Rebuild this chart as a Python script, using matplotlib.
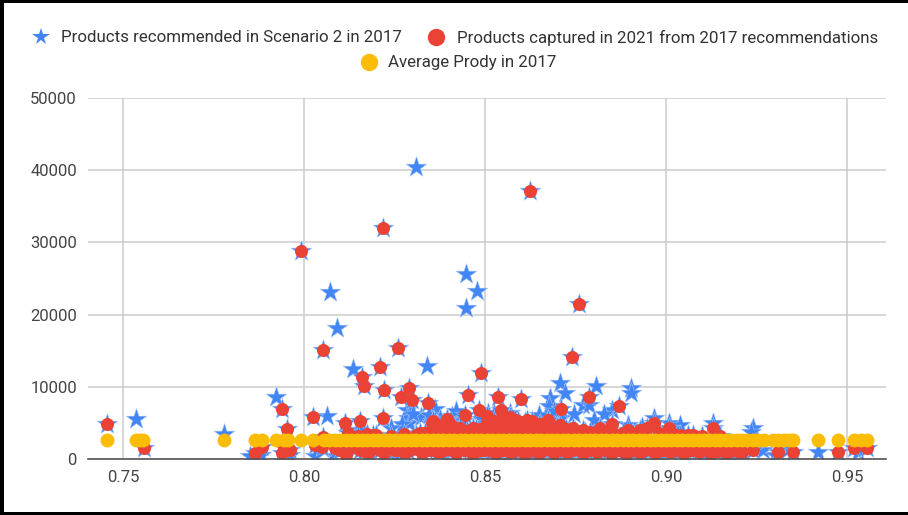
#!/usr/bin/env python

import matplotlib
matplotlib.use('Agg')
import matplotlib.pyplot as plt
from matplotlib.lines import Line2D
from matplotlib.patches import Rectangle

plt.rcParams['font.family'] = ['Roboto', 'DejaVu Sans']

# values
# stars with no red dot on top
only_rec_x = [0.8309, 0.8447, 0.8478, 0.8447, 0.8072, 0.8091, 0.8340, 0.8135, 0.7923, 0.7536,
              0.7779, 0.8064, 0.8707, 0.8807, 0.8903, 0.8903, 0.8722, 0.8680, 0.8677, 0.8771,
              0.8787, 0.8285, 0.8287, 0.8290, 0.8322, 0.8362, 0.8426, 0.8508, 0.8850, 0.8895,
              0.8967, 0.9008, 0.9130, 0.9240, 0.9236, 0.9420, 0.9267, 0.9212, 0.9335, 0.9530,
              0.9300, 0.9185, 0.9100, 0.9050, 0.8990, 0.8930, 0.8640, 0.8560, 0.8470, 0.8390,
              0.8330, 0.8250, 0.8180, 0.8120, 0.8080, 0.8030, 0.7880, 0.7850, 0.7960, 0.8695,
              0.8300, 0.8345, 0.8375, 0.8410, 0.8440, 0.8490, 0.8525, 0.8650, 0.8710, 0.8745,
              0.8800, 0.8830, 0.8690, 0.8270, 0.8240, 0.8150, 0.8420, 0.8570, 0.8935, 0.9040]
only_rec_y = [40400, 25600, 23300, 20900, 23100, 18200, 12900, 12500, 8600, 5500,
              3400, 6000, 10500, 10100, 9800, 9100, 9100, 8400, 7400, 7500,
              7500, 6800, 5700, 5000, 5800, 6900, 5400, 6400, 6800, 4700,
              5700, 5000, 5000, 4300, 3800, 970, 1250, 800, 1250, 970,
              500, 400, 450, 350, 500, 400, 400, 350, 450, 400,
              500, 450, 400, 500, 450, 400, 500, 450, 500, 5600,
              6200, 6100, 5500, 6000, 5200, 5600, 6200, 6100, 5700, 6300,
              5400, 6200, 6600, 4800, 4300, 4000, 6600, 6400, 4400, 4700]

# dots above the yellow band
cap_top_x = [0.7456, 0.7558, 0.7992, 0.8218, 0.8624, 0.8760, 0.8052, 0.8210, 0.8260, 0.8740,
             0.8489, 0.8160, 0.8166, 0.8221, 0.8290, 0.8268, 0.8298, 0.8343, 0.7939, 0.7953,
             0.8025, 0.8113, 0.8155, 0.8218, 0.8052, 0.8191, 0.8122, 0.8320, 0.8453, 0.8536,
             0.8599, 0.8710, 0.8787, 0.8870, 0.8445, 0.8483, 0.8506, 0.8544, 0.8674, 0.8354,
             0.8395, 0.8370, 0.8467, 0.8494, 0.8555, 0.8616, 0.8597, 0.8633, 0.8707, 0.8743,
             0.8412, 0.8528, 0.8575, 0.8550, 0.8771, 0.8851, 0.8818, 0.8967, 0.9008, 0.9130,
             0.8895, 0.8947, 0.8928, 0.9039, 0.9075, 0.8389, 0.8431, 0.8583, 0.8514, 0.8569,
             0.8652, 0.8679, 0.8721, 0.8790, 0.8845, 0.8348, 0.8376, 0.8440, 0.8600, 0.8690]
cap_top_y = [4850, 1520, 28800, 32000, 37100, 21470, 15100, 12740, 15370, 14130,
             11910, 11360, 10110, 9560, 9830, 8590, 8170, 7760, 6930, 4150,
             5820, 4990, 5260, 5680, 3050, 3320, 3600, 3600, 8860, 8590,
             8310, 6930, 8590, 7340, 6090, 6790, 5960, 6790, 5400, 4990,
             5540, 4430, 4290, 4290, 5400, 5400, 4710, 4990, 4710, 4290,
             3740, 4430, 4430, 4020, 4020, 4850, 4290, 4990, 4290, 4290,
             4020, 4290, 4020, 3320, 3320, 4710, 4290, 5400, 4850, 5820,
             4850, 4290, 4020, 3740, 3740, 3740, 4020, 3600, 4200, 3900]

# dots that stick out just above the band, they make the red mound
cap_mid_x = [0.8150, 0.8175, 0.8200, 0.8240, 0.8275, 0.8310, 0.8335, 0.8360, 0.8385, 0.8405,
             0.8425, 0.8450, 0.8475, 0.8500, 0.8520, 0.8540, 0.8560, 0.8580, 0.8600, 0.8620,
             0.8640, 0.8660, 0.8680, 0.8700, 0.8725, 0.8750, 0.8775, 0.8800, 0.8825, 0.8860,
             0.8880, 0.8910, 0.8940, 0.8980, 0.9020, 0.9060, 0.9100, 0.9150,
             0.8365, 0.8400, 0.8460, 0.8480, 0.8505, 0.8525, 0.8545, 0.8565, 0.8590, 0.8610,
             0.8630, 0.8650, 0.8670, 0.8695, 0.8715, 0.8735, 0.8355, 0.8415, 0.8530, 0.8620]
cap_mid_y = [3200, 3500, 3300, 3200, 3400, 3300, 3600, 3900, 3800, 3900,
             3800, 3900, 4100, 4200, 4500, 4800, 4700, 4500, 4300, 4600,
             4400, 4200, 4500, 4400, 4200, 3900, 3700, 3500, 3600, 3500,
             3600, 3500, 3700, 3600, 3400, 3300, 3200, 3200,
             4800, 5000, 3700, 3600, 5000, 5200, 5400, 5500, 5300, 5100,
             5300, 4700, 4800, 3800, 3800, 3700, 5200, 4400, 3800, 3700]

# dots below the yellow band
cap_low_x = [0.7865, 0.7884, 0.7939, 0.7945, 0.7960, 0.8085, 0.8115, 0.8135, 0.8180, 0.8221,
             0.8250, 0.8275, 0.8300, 0.8325, 0.8350, 0.8370, 0.8395, 0.8420, 0.8445, 0.8465,
             0.8490, 0.8510, 0.8530, 0.8550, 0.8570, 0.8590, 0.8610, 0.8630, 0.8650, 0.8670,
             0.8690, 0.8710, 0.8730, 0.8750, 0.8770, 0.8790, 0.8810, 0.8830, 0.8850, 0.8870,
             0.8890, 0.8910, 0.8930, 0.8950, 0.8970, 0.8990, 0.9010, 0.9030, 0.9050, 0.9070,
             0.9090, 0.9110, 0.9125, 0.9140, 0.9155, 0.9170, 0.9185, 0.9240, 0.9309, 0.9350,
             0.9475, 0.9519, 0.9555, 0.8050, 0.8030, 0.8100, 0.8155, 0.8200, 0.8235, 0.8340,
             0.8165, 0.8210, 0.8262, 0.8288, 0.8312, 0.8338, 0.8360, 0.8382, 0.8408, 0.8432,
             0.8455, 0.8478, 0.8500, 0.8520, 0.8540, 0.8560, 0.8580, 0.8600, 0.8620, 0.8640,
             0.8660, 0.8680, 0.8700, 0.8720, 0.8740, 0.8760, 0.8780, 0.8800, 0.8820, 0.8840,
             0.8860, 0.8880, 0.8900, 0.8920, 0.8940, 0.8960, 0.8980, 0.9000, 0.9020, 0.9040,
             0.9060, 0.9080, 0.9100, 0.9118, 0.9133, 0.9148, 0.9163, 0.9178, 0.9195, 0.9210]
cap_low_y = [800, 1600, 800, 1500, 1200, 1500, 600, 1700, 1000, 900,
             1300, 1000, 1500, 900, 1300, 1000, 1400, 900, 1300, 800,
             1200, 1400, 800, 1300, 1000, 1400, 700, 1300, 900, 1400,
             800, 1300, 1000, 1400, 800, 1200, 1000, 1400, 900, 1300,
             700, 1200, 1000, 1400, 800, 1300, 1000, 1400, 800, 1200,
             1000, 1300, 700, 1100, 1300, 800, 1200, 1250, 970, 970,
             970, 1520, 1520, 1700, 1900, 1300, 1200, 1500, 1600, 1700,
             1100, 1300, 1200, 1100, 1400, 1200, 1500, 1100, 1300, 1200,
             1400, 1100, 1300, 1100, 1400, 1200, 1100, 1300, 1500, 1100,
             1300, 1200, 1400, 1100, 1200, 1300, 1100, 1400, 1200, 1100,
             1300, 1400, 1200, 1100, 1300, 1200, 1100, 1300, 1200, 1100,
             1300, 1200, 1400, 1100, 1300, 1200, 1000, 1300, 1100, 1000]

prody_x = [0.7456, 0.7535, 0.7548, 0.7555, 0.7779, 0.7865, 0.7884, 0.7923, 0.7945, 0.7955,
           0.7992, 0.8025, 0.8055, 0.8070, 0.8085, 0.8100, 0.8115, 0.8130, 0.8145, 0.8160,
           0.8175, 0.8190, 0.8205, 0.8220, 0.8235, 0.8250, 0.8265, 0.8280, 0.8295, 0.8310,
           0.8325, 0.8340, 0.8355, 0.8370, 0.8385, 0.8400, 0.8415, 0.8430, 0.8445, 0.8460,
           0.8475, 0.8490, 0.8505, 0.8520, 0.8535, 0.8550, 0.8565, 0.8580, 0.8595, 0.8610,
           0.8625, 0.8640, 0.8655, 0.8670, 0.8685, 0.8700, 0.8715, 0.8730, 0.8745, 0.8760,
           0.8775, 0.8790, 0.8805, 0.8820, 0.8835, 0.8850, 0.8865, 0.8880, 0.8895, 0.8910,
           0.8925, 0.8940, 0.8955, 0.8970, 0.8985, 0.9000, 0.9015, 0.9030, 0.9045, 0.9060,
           0.9075, 0.9090, 0.9105, 0.9120, 0.9135, 0.9150, 0.9165, 0.9180, 0.9195, 0.9210,
           0.9225, 0.9240, 0.9255, 0.9270, 0.9295, 0.9310, 0.9325, 0.9340, 0.9350, 0.9420,
           0.9475, 0.9519, 0.9540, 0.9555]
prody_y = [2700, 2700, 2700, 2700, 2700, 2700, 2700, 2700, 2700, 2700,
           2700, 2700, 2700, 2700, 2700, 2700, 2700, 2700, 2700, 2700,
           2700, 2700, 2700, 2700, 2700, 2700, 2700, 2700, 2700, 2700,
           2700, 2700, 2700, 2700, 2700, 2700, 2700, 2700, 2700, 2700,
           2700, 2700, 2700, 2700, 2700, 2700, 2700, 2700, 2700, 2700,
           2700, 2700, 2700, 2700, 2700, 2700, 2700, 2700, 2700, 2700,
           2700, 2700, 2700, 2700, 2700, 2700, 2700, 2700, 2700, 2700,
           2700, 2700, 2700, 2700, 2700, 2700, 2700, 2700, 2700, 2700,
           2700, 2700, 2700, 2700, 2700, 2700, 2700, 2700, 2700, 2700,
           2700, 2700, 2700, 2700, 2700, 2700, 2700, 2700, 2700, 2700,
           2700, 2700, 2700, 2700]

x_ticks = [0.75, 0.80, 0.85, 0.90, 0.95]
y_ticks = [0, 10000, 20000, 30000, 40000, 50000]
legend_labels = ['Products recommended in Scenario 2 in 2017',
                 'Products captured in 2021 from 2017 recommendations',
                 'Average Prody in 2017']

BLUE = '#4285f4'
RED = '#ea4335'
YELLOW = '#fbbc04'
W, H = 908, 515

cap_x = cap_top_x + cap_mid_x + cap_low_x
cap_y = cap_top_y + cap_mid_y + cap_low_y
rec_x = only_rec_x + cap_x
rec_y = only_rec_y + cap_y

fig = plt.figure(figsize=(W / 100, H / 100), dpi=100)
ax = fig.add_axes([88 / W, 1 - 459 / H, (886 - 88) / W, (459 - 98) / H])

ax.scatter(rec_x, rec_y, marker='*', s=245, color=BLUE, edgecolors='#a9c7fa', linewidths=0.4, zorder=3)
ax.scatter(cap_x, cap_y, marker='o', s=88, color=RED, linewidths=0, zorder=4)
ax.scatter(prody_x, prody_y, marker='o', s=100, color=YELLOW, linewidths=0, zorder=5)

ax.set_xlim(0.7403, 0.9608)
ax.set_ylim(0, 50000)
ax.set_xticks(x_ticks)
ax.set_xticklabels(['%.2f' % t for t in x_ticks])
ax.set_yticks(y_ticks)
ax.grid(True, color='#cccccc', linewidth=1.1, zorder=1)
ax.set_axisbelow(True)
ax.tick_params(length=0, labelsize=12, labelcolor='#444444', pad=8)
for name in ['top', 'right', 'left']:
    ax.spines[name].set_visible(False)
ax.spines['bottom'].set_color('#555555')
ax.spines['bottom'].set_linewidth(1.2)
ax.spines['bottom'].set_zorder(6)

# legend by hand, second row is centred under the first
handles = [(41, 37, '*', BLUE, 13), (436, 37, 'o', RED, 12.5), (369, 62, 'o', YELLOW, 12.5)]
text_pos = [(61, 38), (457, 38), (388, 63)]
for (hx, hy, marker, color, size), (tx, ty), label in zip(handles, text_pos, legend_labels):
    fig.add_artist(Line2D([hx / W], [1 - hy / H], marker=marker, color=color, markersize=size,
                          markeredgewidth=0, linestyle='none', transform=fig.transFigure))
    fig.text(tx / W, 1 - ty / H, label, fontsize=12.2, color='#333333', ha='left', va='center')

# black frame of the screenshot
for x0, y0, w, h in [(0, 0, 4, H), (0, 0, W, 3), (0, H - 3, W, 3)]:
    fig.add_artist(Rectangle((x0 / W, 1 - (y0 + h) / H), w / W, h / H, color='black',
                             linewidth=0, transform=fig.transFigure))

fig.savefig('out.png', dpi=100)
